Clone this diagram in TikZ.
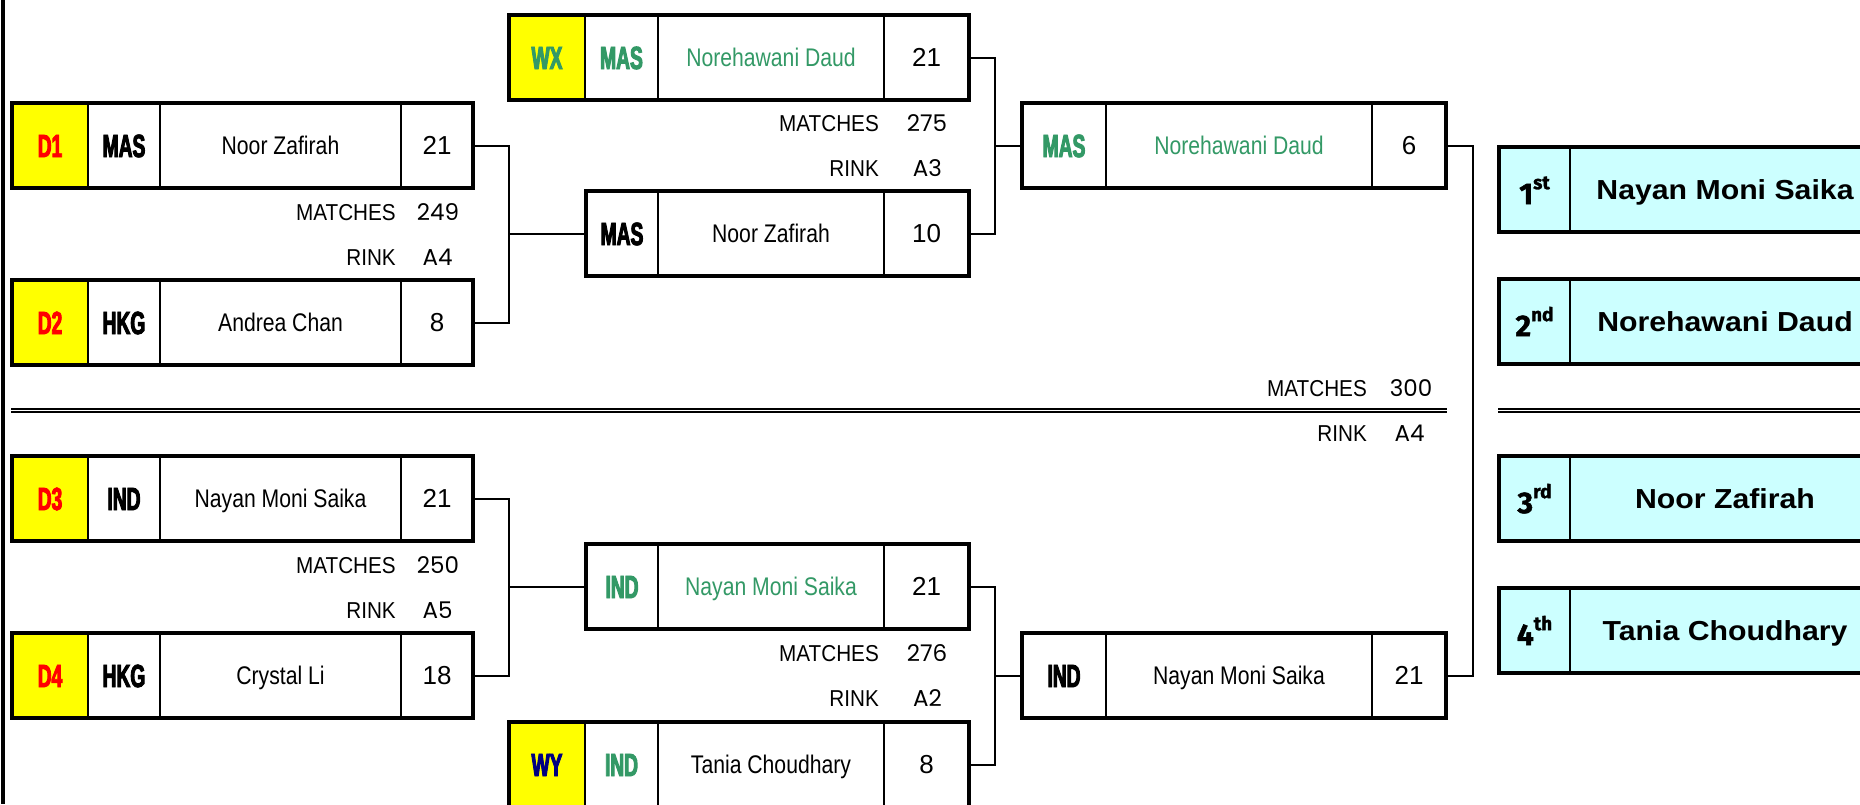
\documentclass[tikz,border=0pt]{standalone}
\usepackage{fontspec}
\setmainfont{Liberation Sans}
\newfontfamily\codefont{Liberation Sans}[FakeStretch=0.6,FakeBold=3]
\newfontfamily\namefont{Liberation Sans}[FakeStretch=0.83]
\newfontfamily\labfont{Liberation Sans}[FakeStretch=0.9]
\newfontfamily\numfont{Poppins}
\newfontfamily\placefont{Liberation Sans}[FakeStretch=1.1]
\newfontfamily\ordfont{Fira Sans}[FakeBold=1.5]
\definecolor{seedyellow}{HTML}{FFFF00}
\definecolor{seedred}{HTML}{FF0000}
\definecolor{wingreen}{HTML}{339966}
\definecolor{wynavy}{HTML}{000080}
\definecolor{placecyan}{HTML}{CCFFFF}
\tikzset{
  cellbox/.style={draw, line width=2pt, inner sep=0pt, outer sep=0pt, text depth=0pt},
  frame/.style={draw, line width=4pt, inner sep=0pt, outer sep=0pt},
  seedf/.style={fill=seedyellow, font=\codefont\bfseries\fontsize{32}{36}\selectfont, text height=23pt},
  codef/.style={font=\codefont\bfseries\fontsize{32}{36}\selectfont, text height=23pt},
  namef/.style={font=\namefont\fontsize{25.5}{30}\selectfont, text height=18.3pt},
  scoref/.style={font=\fontsize{26}{30}\selectfont, text height=18.6pt},
  labf/.style={font=\labfont\fontsize{23}{27}\selectfont, text height=16.5pt, text depth=0pt, inner sep=0pt},
  numf/.style={font=\numfont\fontsize{23}{27}\selectfont, text height=16pt, text depth=0pt, inner sep=0pt},
  placef/.style={fill=placecyan, font=\placefont\bfseries\fontsize{27.5}{32}\selectfont, text height=19.7pt},
  ordf/.style={fill=placecyan, font=\ordfont\bfseries\fontsize{30}{34}\selectfont, text height=29.3pt},
  conn/.style={line width=2pt},
  sepline/.style={line width=1.6pt},
  win/.style={text=wingreen}
}
\newcommand{\mkcell}[7]{\node[cellbox,#6,minimum width={#3-(#2)},minimum height={#5-(#4)}] (#1) at ({(#2+#3)/2},{(#4+#5)/2}) {#7};}
\newcommand{\frm}[5]{\node[frame,minimum width={#3-(#2)},minimum height={#5-(#4)}] (#1) at ({(#2+#3)/2},{(#4+#5)/2}) {};}
\newcommand{\ordtxt}[2]{#1\raisebox{15pt}{\fontsize{19}{22}\selectfont #2}}
\begin{document}
\begin{tikzpicture}[x=1pt,y=-1pt]
\useasboundingbox (0,0) rectangle (1860,804);
\clip (0,0) rectangle (1860,804);
\fill[white] (0,0) rectangle (1860,804);
% left border
\draw[line width=3.4pt] (3,0) -- (3,804);
% separator double line
\draw[sepline] (11,409.2) -- (1447,409.2);
\draw[sepline] (11,411.9) -- (1447,411.9);
\draw[sepline] (1498,409.2) -- (1860,409.2);
\draw[sepline] (1498,411.9) -- (1860,411.9);

% ---- first round, top
\mkcell{D1a}{12}{88}{103}{188}{seedf,text=seedred}{D1}
\mkcell{D1b}{88}{160}{103}{188}{codef}{MAS}
\mkcell{D1c}{160}{401}{103}{188}{namef}{Noor Zafirah}
\mkcell{D1d}{401}{473}{103}{188}{scoref}{21}
\frm{D1}{12}{473}{103}{188}

\mkcell{D2a}{12}{88}{280}{365}{seedf,text=seedred}{D2}
\mkcell{D2b}{88}{160}{280}{365}{codef}{HKG}
\mkcell{D2c}{160}{401}{280}{365}{namef}{Andrea Chan}
\mkcell{D2d}{401}{473}{280}{365}{scoref}{8}
\frm{D2}{12}{473}{280}{365}

% ---- first round, bottom
\mkcell{D3a}{12}{88}{456}{541}{seedf,text=seedred}{D3}
\mkcell{D3b}{88}{160}{456}{541}{codef}{IND}
\mkcell{D3c}{160}{401}{456}{541}{namef}{Nayan Moni Saika}
\mkcell{D3d}{401}{473}{456}{541}{scoref}{21}
\frm{D3}{12}{473}{456}{541}

\mkcell{D4a}{12}{88}{633}{718}{seedf,text=seedred}{D4}
\mkcell{D4b}{88}{160}{633}{718}{codef}{HKG}
\mkcell{D4c}{160}{401}{633}{718}{namef}{Crystal Li}
\mkcell{D4d}{401}{473}{633}{718}{scoref}{18}
\frm{D4}{12}{473}{633}{718}

% ---- second round
\mkcell{WXa}{509}{585}{15}{100}{seedf,win}{WX}
\mkcell{WXb}{585}{658}{15}{100}{codef,win}{MAS}
\mkcell{WXc}{658}{884}{15}{100}{namef,win}{Norehawani Daud}
\mkcell{WXd}{884}{969}{15}{100}{scoref}{21}
\frm{WX}{509}{969}{15}{100}

\mkcell{N2b}{586}{658}{191}{276}{codef}{MAS}
\mkcell{N2c}{658}{884}{191}{276}{namef}{Noor Zafirah}
\mkcell{N2d}{884}{969}{191}{276}{scoref}{10}
\frm{N2}{586}{969}{191}{276}

\mkcell{I2b}{586}{658}{544}{629}{codef,win}{IND}
\mkcell{I2c}{658}{884}{544}{629}{namef,win}{Nayan Moni Saika}
\mkcell{I2d}{884}{969}{544}{629}{scoref}{21}
\frm{I2}{586}{969}{544}{629}

\mkcell{WYa}{509}{585}{722}{807}{seedf,text=wynavy}{WY}
\mkcell{WYb}{585}{658}{722}{807}{codef,win}{IND}
\mkcell{WYc}{658}{884}{722}{807}{namef}{Tania Choudhary}
\mkcell{WYd}{884}{969}{722}{807}{scoref}{8}
\frm{WY}{509}{969}{722}{807}

% ---- third round
\mkcell{FTb}{1022}{1106}{103}{188}{codef,win}{MAS}
\mkcell{FTc}{1106}{1372}{103}{188}{namef,win}{Norehawani Daud}
\mkcell{FTd}{1372}{1446}{103}{188}{scoref}{6}
\frm{FT}{1022}{1446}{103}{188}

\mkcell{FBb}{1022}{1106}{633}{718}{codef}{IND}
\mkcell{FBc}{1106}{1372}{633}{718}{namef}{Nayan Moni Saika}
\mkcell{FBd}{1372}{1446}{633}{718}{scoref}{21}
\frm{FB}{1022}{1446}{633}{718}

% ---- placements
\mkcell{P1a}{1499}{1570}{147}{232}{ordf}{\ordtxt{1}{st}}
\mkcell{P1b}{1570}{1880}{147}{232}{placef}{Nayan Moni Saika}
\frm{P1}{1499}{1880}{147}{232}
\mkcell{P2a}{1499}{1570}{279}{364}{ordf}{\ordtxt{2}{nd}}
\mkcell{P2b}{1570}{1880}{279}{364}{placef}{Norehawani Daud}
\frm{P2}{1499}{1880}{279}{364}
\mkcell{P3a}{1499}{1570}{456}{541}{ordf}{\ordtxt{3}{rd}}
\mkcell{P3b}{1570}{1880}{456}{541}{placef}{Noor Zafirah}
\frm{P3}{1499}{1880}{456}{541}
\mkcell{P4a}{1499}{1570}{588}{673}{ordf}{\ordtxt{4}{th}}
\mkcell{P4b}{1570}{1880}{588}{673}{placef}{Tania Choudhary}
\frm{P4}{1499}{1880}{588}{673}

% ---- match labels
\node[labf,anchor=east] (mA) at (396,212) {MATCHES};
\node[numf] (mAn) at (438,212) {249};
\node[labf,anchor=east] (rA) at (396,257) {RINK};
\node[numf] (rAn) at (437.5,257) {A4};

\node[labf,anchor=east] (mB) at (879,123) {MATCHES};
\node[numf] (mBn) at (927,123) {275};
\node[labf,anchor=east] (rB) at (879,168) {RINK};
\node[numf] (rBn) at (927.5,168) {A3};

\node[labf,anchor=east] (mC) at (1367,388) {MATCHES};
\node[numf] (mCn) at (1411,388) {300};
\node[labf,anchor=east] (rC) at (1367,433) {RINK};
\node[numf] (rCn) at (1409.5,433) {A4};

\node[labf,anchor=east] (mD) at (396,565) {MATCHES};
\node[numf] (mDn) at (438,565) {250};
\node[labf,anchor=east] (rD) at (396,610) {RINK};
\node[numf] (rDn) at (437.5,610) {A5};

\node[labf,anchor=east] (mE) at (879,653) {MATCHES};
\node[numf] (mEn) at (927,653) {276};
\node[labf,anchor=east] (rE) at (879,698) {RINK};
\node[numf] (rEn) at (927.5,698) {A2};

% ---- connectors
\coordinate (jA) at (509,233.5);
\draw[conn] (D1.east) -| (jA) |- (D2.east);
\draw[conn] (jA) -- (N2.west);
\coordinate (jB) at (995,145.5);
\draw[conn] (WX.east) -| (jB) |- (N2.east);
\draw[conn] (jB) -- (FT.west);
\coordinate (jC) at (509,586.5);
\draw[conn] (D3.east) -| (jC) |- (D4.east);
\draw[conn] (jC) -- (I2.west);
\coordinate (jD) at (995,675.5);
\draw[conn] (I2.east) -| (jD) |- (WY.east);
\draw[conn] (jD) -- (FB.west);
\coordinate (jE) at (1473,410);
\draw[conn] (FT.east) -| (jE) |- (FB.east);
\end{tikzpicture}
\end{document}
